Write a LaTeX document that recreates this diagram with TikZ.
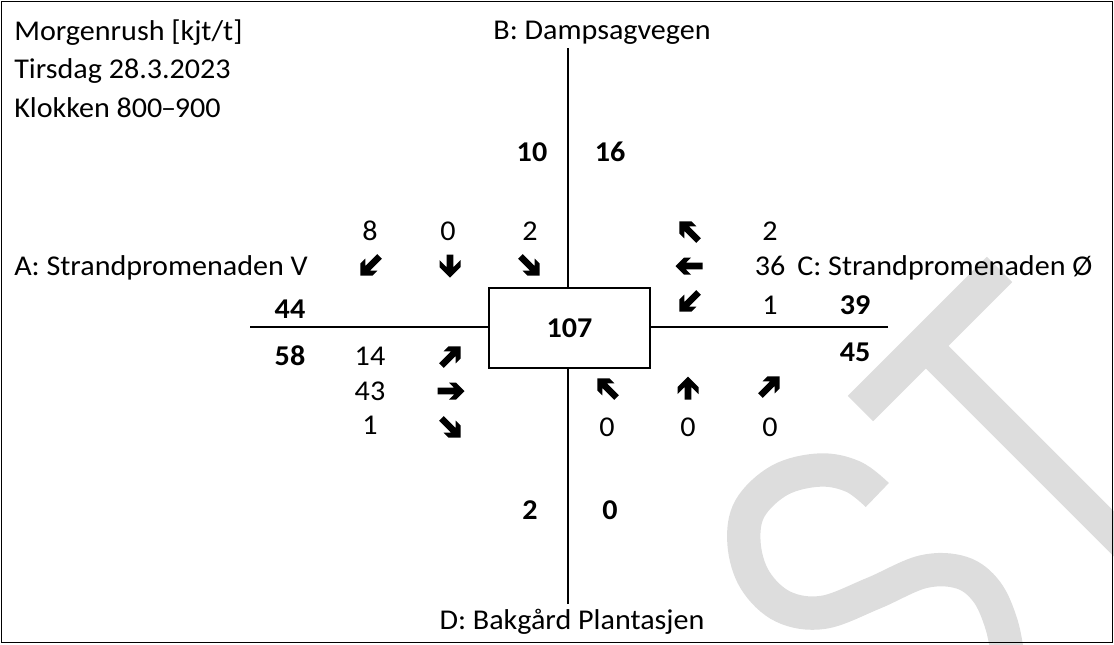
\documentclass[tikz,border=0pt]{standalone}
\usepackage{fontspec}
\setmainfont{Carlito}[FakeStretch=1.05]
\newcommand\fs{\fontsize{21.5}{26}\selectfont}
\definecolor{wmgray}{RGB}{221,221,221}
\tikzset{
  lbl/.style={inner sep=0pt, anchor=base, font=\fs},
  lblw/.style={inner sep=0pt, anchor=base west, font=\fs},
  bnum/.style={inner sep=0pt, anchor=base, font=\fs\bfseries},
  road/.style={line width=0.9pt},
  wm/.style={draw=wmgray, line cap=butt},
  pics/barrow/.style n args={2}{code={
    \fill (#1/2,0) -- (#1/2-#2,#2) -- (#1/2-#2-7,#2) -- (#1/2-10.3,3.3) -- (-#1/2,3.3)
      -- (-#1/2,-3.3) -- (#1/2-10.3,-3.3) -- (#1/2-#2-7,-#2) -- (#1/2-#2,-#2) -- cycle;
  }},
}
\begin{document}
\begin{tikzpicture}[x=0.75pt,y=-0.75pt]
\useasboundingbox (0,0) rectangle (1114,644);
% watermark letters S T
\begin{scope}
  \clip (0,0) rectangle (1114,644);
  \draw[wm, line width=27pt] (860.5,408.5) -- (999.5,269.5);
  \draw[wm, line width=24pt] (924,344) -- (1260,680);
  \draw[wm, line width=25pt] plot[smooth, tension=0.6] coordinates {
    (877.3,495) (853.3,476.7) (820,470) (780,480) (750,508.3) (744,543.3)
    (755,580) (783.3,606.7) (823.3,612.3) (873.3,593.3) (923.3,571.7)
    (961.7,572.7) (986.7,591.7) (1001.7,625) (1008.3,660)};
\end{scope}
% frame
\draw[line width=1.1pt] (1.5,1.5) rectangle (1112.5,642.5);
% central box
\node[draw, line width=1.5pt, minimum width=120.75pt, minimum height=60pt, inner sep=0pt,
      font=\fs\bfseries] (box) at (569.5,328) {107};
% roads
\coordinate (Btop) at (568,48);
\coordinate (Dbot) at (568,604);
\coordinate (Aend) at (250,327);
\coordinate (Cend) at (888,327);
\draw[road] (Btop) -- (Btop |- box.north);
\draw[road] (Dbot) -- (Dbot |- box.south);
\draw[road] (Aend) -- (Aend -| box.west);
\draw[road] (Cend) -- (Cend -| box.east);
% titles
\node[lblw] (t1) at (14,40) {Morgenrush [kjt/t]};
\node[lblw] (t2) at (14,78.5) {Tirsdag 28.3.2023};
\node[lblw] (t3) at (14,117) {Klokken 800\kern-1pt–\kern-1pt900};
% arm labels
\node[lbl] (labB) at (602,39) {B: Dampsagvegen};
\node[lbl] (labD) at (572,629) {D: Bakgård Plantasjen};
\node[lblw] (labA) at (14,275) {A: Strandpromenaden V};
\node[lblw] (labC) at (797,275) {C: Strandpromenaden Ø};
% totals
\node[bnum] (bin) at (532,161) {10};
\node[bnum] (bout) at (610,161) {16};
\node[bnum] (dout) at (530,519) {2};
\node[bnum] (din) at (610,519) {0};
\node[bnum] (aout) at (290,318) {44};
\node[bnum] (ain) at (290,365) {58};
\node[bnum] (cin) at (855,314) {39};
\node[bnum] (cout) at (855,361) {45};
% B approach
\node[lbl] (bl) at (370,240) {8};
\node[lbl] (bs) at (448,240) {0};
\node[lbl] (br) at (530,240) {2};
\pic[rotate=225] at (370,266) {barrow={27}{8.5}};
\pic[rotate=270] at (450,266) {barrow={23}{10.5}};
\pic[rotate=315] at (530,266) {barrow={27}{8.5}};
% C approach
\node[lbl] (cr) at (770,240) {2};
\node[lbl] (cs) at (770,275) {36};
\node[lbl] (cl) at (770,314) {1};
\pic[rotate=135] at (689,231) {barrow={27}{8.5}};
\pic[rotate=180] at (689,266) {barrow={27}{8.5}};
\pic[rotate=225] at (689,302) {barrow={27}{8.5}};
% A approach
\node[lbl] (al) at (370,365) {14};
\node[lbl] (as) at (370,400) {43};
\node[lbl] (ar) at (370,434) {1};
\pic[rotate=45] at (451,356) {barrow={27}{8.5}};
\pic[rotate=0] at (451,391) {barrow={27}{8.5}};
\pic[rotate=315] at (451,428) {barrow={27}{8.5}};
% D approach
\pic[rotate=135] at (607,388) {barrow={27}{8.5}};
\pic[rotate=90] at (688,388) {barrow={23}{10.5}};
\pic[rotate=45] at (770,386) {barrow={27}{8.5}};
\node[lbl] (dl) at (607,436) {0};
\node[lbl] (ds) at (688,436) {0};
\node[lbl] (dr) at (770,436) {0};
\end{tikzpicture}
\end{document}
